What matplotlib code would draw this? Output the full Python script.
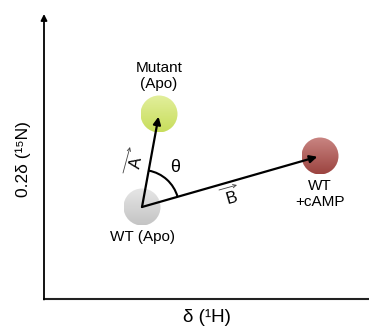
import numpy as np
import matplotlib
matplotlib.use("Agg")
import matplotlib.pyplot as plt
from matplotlib.patches import Circle, Arc

plt.rcParams['font.family'] = ['Liberation Sans', 'DejaVu Sans']

# states in chemical shift space (arbitrary units, origin at axis corner)
states = ["WT (Apo)", "Mutant\n(Apo)", "WT\n+cAMP"]
state_x = [98, 115, 276]
state_y = [92, 185, 143]
top_colors = ["#e6e6e6", "#e2ef9c", "#c98582"]
bot_colors = ["#c4c4c4", "#c8dd5c", "#9c4440"]
label_offsets = [-30, 38, -38]
radius = 18.5

fig = plt.figure(figsize=(3.69, 3.29), dpi=100)
ax = fig.add_axes([0, 0, 1, 1])
ax.set_axis_off()

# axes of the diagram
ax.annotate("", xy=(0, 285), xytext=(0, -0.5),
            arrowprops=dict(arrowstyle="-|>", color="black", lw=1.3,
                            mutation_scale=9, shrinkA=0, shrinkB=0))
ax.plot([-0.6, 325], [0, 0], color="#222222", lw=1.5, solid_capstyle="butt")
ax.text(163, -18, "δ (¹H)", ha="center", va="center", fontsize=13.5)
ax.text(-21, 140, "0.2δ (¹⁵N)", ha="center", va="center", fontsize=12.5,
        rotation=90)

# circles with a soft vertical gradient
grad = np.linspace(0, 1, 64).reshape(-1, 1)
for i in range(len(states)):
    cx, cy = state_x[i], state_y[i]
    c1 = np.array(matplotlib.colors.to_rgb(top_colors[i]))
    c2 = np.array(matplotlib.colors.to_rgb(bot_colors[i]))
    img = c1[None, None, :] * (1 - grad[:, :, None]) + c2[None, None, :] * grad[:, :, None]
    circ = Circle((cx, cy), radius, facecolor="none", edgecolor="none")
    ax.add_patch(circ)
    im = ax.imshow(img, extent=[cx - radius, cx + radius, cy - radius, cy + radius],
                   origin="upper", zorder=1, interpolation="bilinear")
    im.set_clip_path(circ)
    ax.text(cx, cy + label_offsets[i], states[i], ha="center", va="center",
            fontsize=11, linespacing=1.1)

# vectors A and B
x0, y0 = state_x[0], state_y[0]
for j in (1, 2):
    ax.annotate("", xy=(state_x[j], state_y[j]), xytext=(x0, y0),
                arrowprops=dict(arrowstyle="-|>", color="black", lw=1.6,
                                mutation_scale=11, shrinkA=0, shrinkB=2),
                zorder=3)

ang_a = np.degrees(np.arctan2(state_y[1] - y0, state_x[1] - x0))
ang_b = np.degrees(np.arctan2(state_y[2] - y0, state_x[2] - x0))
ax.add_patch(Arc((x0, y0), 74, 74, theta1=ang_b, theta2=ang_a,
                 color="black", lw=1.5, zorder=3))
ax.text(131, 131, "θ", ha="center", va="center", fontsize=13)

# vector labels with small over-arrows
ax.text(93, 136, "A", ha="center", va="center", fontsize=12, rotation=ang_a)
ax.annotate("", xy=(86, 152), xytext=(79, 126),
            arrowprops=dict(arrowstyle="->", color="#444444", lw=0.6,
                            mutation_scale=6, shrinkA=0, shrinkB=0))
ax.text(188, 101, "B", ha="center", va="center", fontsize=12, rotation=ang_b)
ax.annotate("", xy=(193, 114), xytext=(175, 109),
            arrowprops=dict(arrowstyle="->", color="#444444", lw=0.6,
                            mutation_scale=6, shrinkA=0, shrinkB=0))

ax.set_xlim(-44, 325)
ax.set_ylim(-30, 299)
ax.set_aspect("auto")

fig.savefig("out.png", dpi=100)
